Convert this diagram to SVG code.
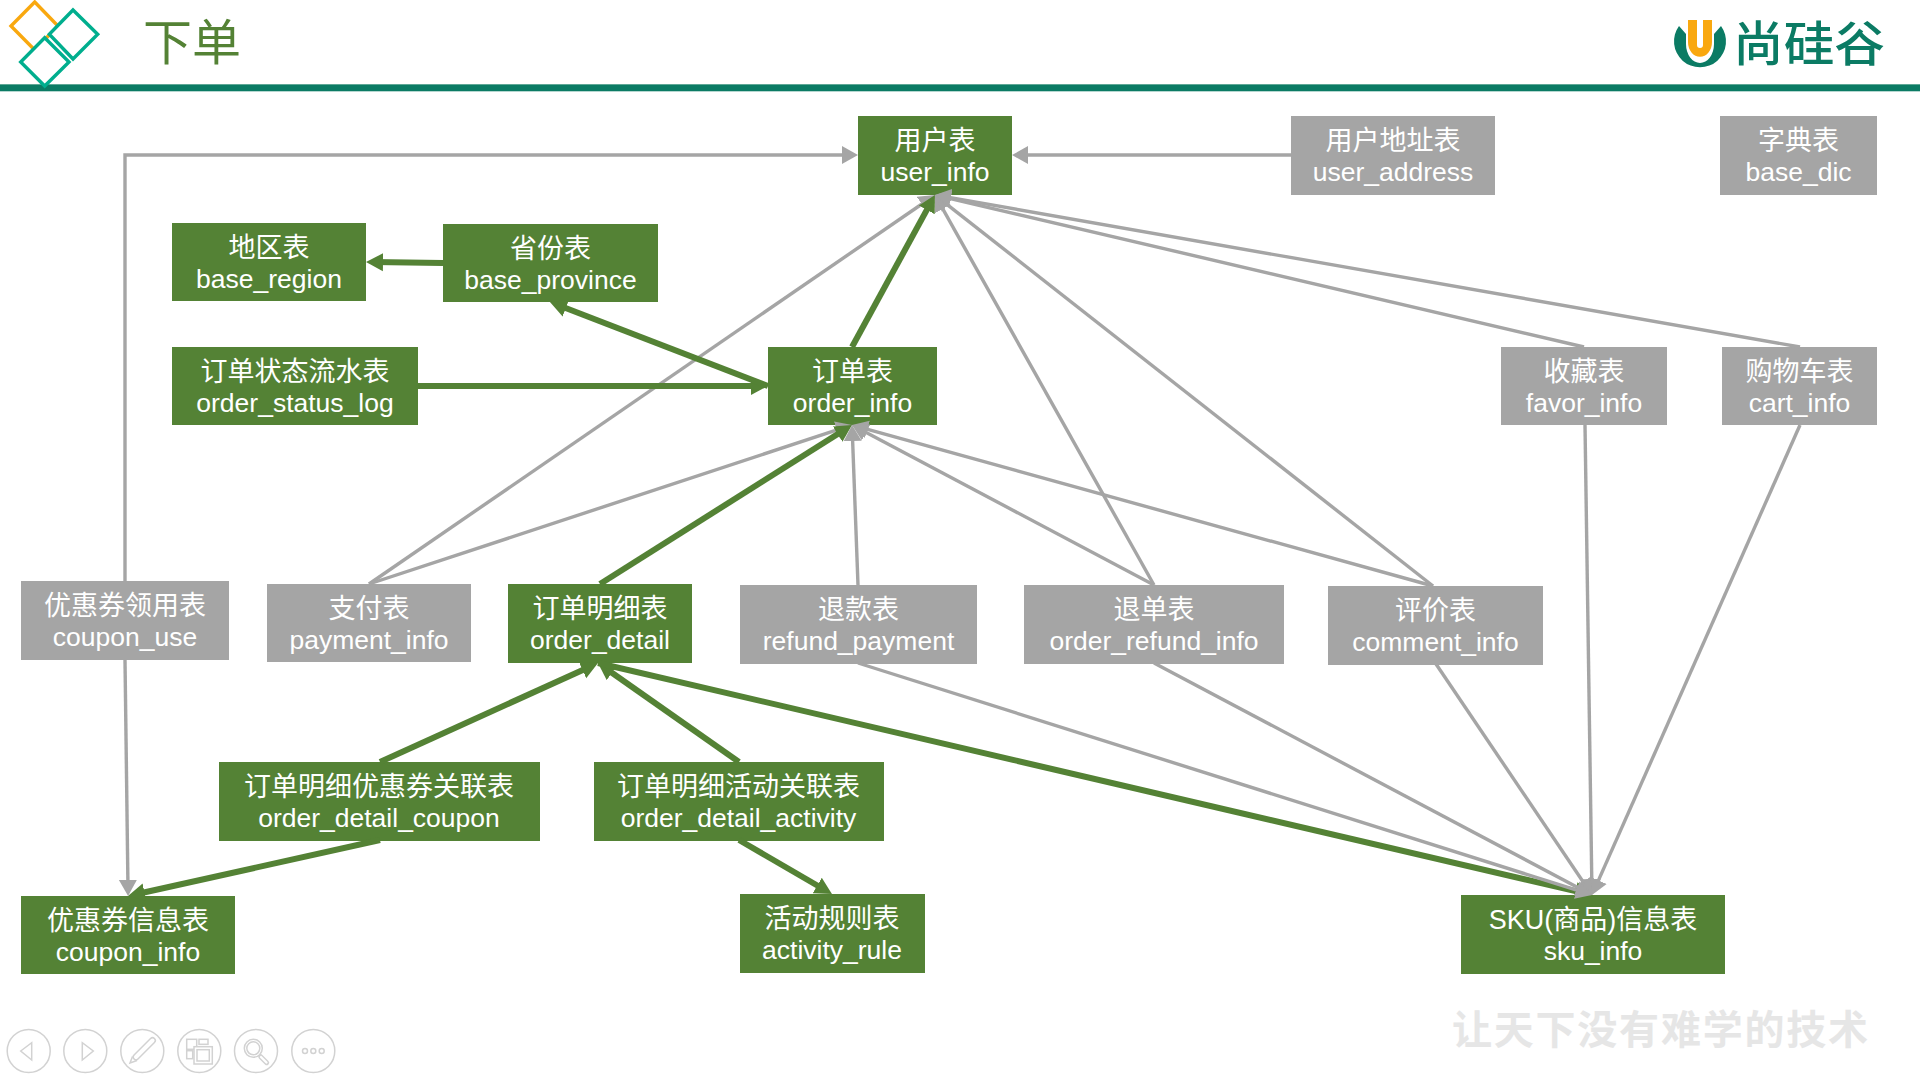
<svg xmlns="http://www.w3.org/2000/svg" width="1920" height="1080" viewBox="0 0 1920 1080">
<style>
text{font-family:"Liberation Sans","Noto Sans CJK SC",sans-serif}
.n text{font-size:26.5px;fill:#fff;text-anchor:middle}
.n text:first-of-type{font-size:27px}
.g rect{fill:#548235}
.h rect{fill:#A5A5A5}
.lg{fill:none;stroke:#A5A5A5;stroke-width:3.4;marker-end:url(#ag)}
.lt{fill:none;stroke:#548235;stroke-width:6;marker-end:url(#at)}
.ic{fill:none;stroke:#D2D2D2;stroke-width:1.5}
</style>
<defs>
<marker id="ag" markerUnits="userSpaceOnUse" markerWidth="18" markerHeight="20" refX="9" refY="10" orient="auto" viewBox="0 0 18 20"><path d="M0,1L16,10L0,19Z" fill="#A5A5A5"/></marker>
<marker id="at" markerUnits="userSpaceOnUse" markerWidth="19" markerHeight="20" refX="10" refY="10" orient="auto" viewBox="0 0 19 20"><path d="M0,1L17,10L0,19Z" fill="#548235"/></marker>
</defs>
<rect width="1920" height="1080" fill="#fff"/>
<g id="header">
<rect x="0" y="84" width="1920" height="1.2" fill="#5FA896"/>
<rect x="0" y="85" width="1920" height="6.3" fill="#0B7B64"/>
<g stroke-width="3.4" fill="#fff">
<path d="M34.7,2L58,26L34.7,50L11,26Z" stroke="#F9A80F"/>
<path d="M73,10L97.7,34.3L73,59L49.3,34.3Z" stroke="#00AE8E"/>
<path d="M44.7,37.7L69,62L44.7,86L20.7,62Z" stroke="#00AE8E"/>
</g>
<text x="143" y="60" font-size="49" fill="#548235" style="font-family:'Noto Sans CJK SC',sans-serif">下单</text>
<path d="M1679,26A26,26 0 1 0 1721,26L1714,34V44A14,19 0 0 1 1686,44V34Z" fill="#0B7B64"/>
<path d="M1688,20H1697V45A3,3 0 0 0 1703,45V20H1712V42A12,14.7 0 0 1 1688,42Z" fill="#F9A80F"/>
<text x="1733" y="61" font-size="48" font-weight="500" fill="#0B7B64" textLength="152" lengthAdjust="spacingAndGlyphs" style="font-family:'Noto Sans CJK SC',sans-serif">尚硅谷</text>
</g>
<g id="user_info" class="n g"><rect x="858" y="116" width="154" height="79"/><text x="935" y="149.500">用户表</text><text x="935" y="181">user_info</text></g>
<g id="user_address" class="n h"><rect x="1291" y="116" width="204" height="79"/><text x="1393" y="149.500">用户地址表</text><text x="1393" y="181">user_address</text></g>
<g id="base_dic" class="n h"><rect x="1720" y="116" width="157" height="79"/><text x="1798.500" y="149.500">字典表</text><text x="1798.500" y="181">base_dic</text></g>
<g id="base_region" class="n g"><rect x="172" y="223" width="194" height="78"/><text x="269" y="256.500">地区表</text><text x="269" y="288">base_region</text></g>
<g id="base_province" class="n g"><rect x="443" y="224" width="215" height="78"/><text x="550.500" y="257.500">省份表</text><text x="550.500" y="289">base_province</text></g>
<g id="order_status_log" class="n g"><rect x="172" y="347" width="246" height="78"/><text x="295" y="380.500">订单状态流水表</text><text x="295" y="412">order_status_log</text></g>
<g id="order_info" class="n g"><rect x="768" y="347" width="169" height="78"/><text x="852.500" y="380.500">订单表</text><text x="852.500" y="412">order_info</text></g>
<g id="favor_info" class="n h"><rect x="1501" y="347" width="166" height="78"/><text x="1584" y="380.500">收藏表</text><text x="1584" y="412">favor_info</text></g>
<g id="cart_info" class="n h"><rect x="1722" y="347" width="155" height="78"/><text x="1799.500" y="380.500">购物车表</text><text x="1799.500" y="412">cart_info</text></g>
<g id="coupon_use" class="n h"><rect x="21" y="581" width="208" height="79"/><text x="125" y="614.500">优惠券领用表</text><text x="125" y="646">coupon_use</text></g>
<g id="payment_info" class="n h"><rect x="267" y="584" width="204" height="78"/><text x="369" y="617.500">支付表</text><text x="369" y="649">payment_info</text></g>
<g id="order_detail" class="n g"><rect x="508" y="584" width="184" height="79"/><text x="600" y="617.500">订单明细表</text><text x="600" y="649">order_detail</text></g>
<g id="refund_payment" class="n h"><rect x="740" y="585" width="237" height="79"/><text x="858.500" y="618.500">退款表</text><text x="858.500" y="650">refund_payment</text></g>
<g id="order_refund_info" class="n h"><rect x="1024" y="585" width="260" height="79"/><text x="1154" y="618.500">退单表</text><text x="1154" y="650">order_refund_info</text></g>
<g id="comment_info" class="n h"><rect x="1328" y="586" width="215" height="79"/><text x="1435.500" y="619.500">评价表</text><text x="1435.500" y="651">comment_info</text></g>
<g id="order_detail_coupon" class="n g"><rect x="219" y="762" width="321" height="79"/><text x="379" y="795.500">订单明细优惠券关联表</text><text x="379" y="827">order_detail_coupon</text></g>
<g id="order_detail_activity" class="n g"><rect x="594" y="762" width="290" height="79"/><text x="738.500" y="795.500">订单明细活动关联表</text><text x="738.500" y="827">order_detail_activity</text></g>
<g id="coupon_info" class="n g"><rect x="21" y="896" width="214" height="78"/><text x="128" y="929.500">优惠券信息表</text><text x="128" y="961">coupon_info</text></g>
<g id="activity_rule" class="n g"><rect x="740" y="894" width="185" height="79"/><text x="832" y="928">活动规则表</text><text x="832" y="959">activity_rule</text></g>
<g id="sku_info" class="n g"><rect x="1461" y="895" width="264" height="79"/><text x="1593" y="928.500">SKU(商品)信息表</text><text x="1593" y="960">sku_info</text></g>
<g id="connectors">
<path class="lg" d="M125,581V155H851"/>
<path class="lg" d="M1291,155H1019"/>
<path class="lg" d="M369,584L929.200,199"/>
<path class="lg" d="M1154,585L938.400,201.100"/>
<path class="lg" d="M1433,586L940.500,199.300"/>
<path class="lg" d="M1584,347L941.800,196.600"/>
<path class="lg" d="M1800,347L941.900,196.200"/>
<path class="lg" d="M369,584L845.400,427.200"/>
<path class="lg" d="M1154,585L858.200,428.300"/>
<path class="lg" d="M1433,586L858.700,426.900"/>
<path class="lt" d="M443,263L373,262.100"/>
<path class="lt" d="M418,386H761"/>
<path class="lt" d="M768,386L556.500,304.500"/>
<path class="lt" d="M852,347L931.600,201.100"/>
<path class="lt" d="M600,584L846.100,428.700"/>
<path class="lg" d="M858,585L852.300,432"/>
<path class="lt" d="M380,762L591.600,665.900"/>
<path class="lt" d="M739,762L603.700,667"/>
<path class="lt" d="M598,663L1585.200,893.400"/>
<path class="lt" d="M380,840L134.800,894.500"/>
<path class="lt" d="M739,840L825.900,890.500"/>
<path class="lg" d="M125,660L128,889"/>
<path class="lg" d="M1585,425L1591.900,888"/>
<path class="lg" d="M1800,425L1594.800,888.600"/>
<path class="lg" d="M1436,664L1588.100,889.200"/>
<path class="lg" d="M1154,663L1585.800,891.700"/>
<path class="lg" d="M858,663L1585.300,892.900"/>
</g>
<g id="toolbar">
<circle class="ic" cx="28.700" cy="1051" r="21.500"/><path class="ic" d="M20.700,1051L31.700,1042.700V1060Z"/>
<circle class="ic" cx="85.300" cy="1051" r="21.500"/><path class="ic" d="M82.300,1042.700V1060L93.300,1051Z"/>
<circle class="ic" cx="142.300" cy="1051" r="21.500"/><path d="M136,1057L152.500,1040.500" stroke="#D2D2D2" stroke-width="7" stroke-linecap="round"/><path d="M136,1057L152.500,1040.500" stroke="#fff" stroke-width="4" stroke-linecap="round"/><path class="ic" d="M132.500,1056.500L130,1063L137,1060.500"/>
<circle class="ic" cx="199.300" cy="1051" r="21.500"/><rect class="ic" x="186.700" y="1039.300" width="10" height="10"/><rect class="ic" x="199" y="1039.300" width="9" height="5"/><rect class="ic" x="186.700" y="1050.700" width="6" height="8"/><rect class="ic" x="194" y="1046.700" width="18.300" height="17.300" style="fill:#fff"/><rect class="ic" x="197" y="1049.700" width="12.300" height="11.300"/>
<circle class="ic" cx="256" cy="1051" r="21.500"/><circle class="ic" cx="253.300" cy="1048.300" r="9"/><circle class="ic" cx="253.300" cy="1048.300" r="6.500"/><path d="M260.700,1056.700L266.700,1062.700" stroke="#D2D2D2" stroke-width="5" stroke-linecap="round"/><path d="M261,1057L266.500,1062.500" stroke="#fff" stroke-width="2.200" stroke-linecap="round"/>
<circle class="ic" cx="313.300" cy="1051" r="21.500"/><circle class="ic" cx="305" cy="1051" r="2.500"/><circle class="ic" cx="313.300" cy="1051" r="2.500"/><circle class="ic" cx="321.700" cy="1051" r="2.500"/>
</g>
<text id="slogan" x="1452" y="1044" font-size="40" font-weight="700" fill="#E6E6E6" textLength="416" style="font-family:'Noto Sans CJK SC',sans-serif">让天下没有难学的技术</text>
</svg>
